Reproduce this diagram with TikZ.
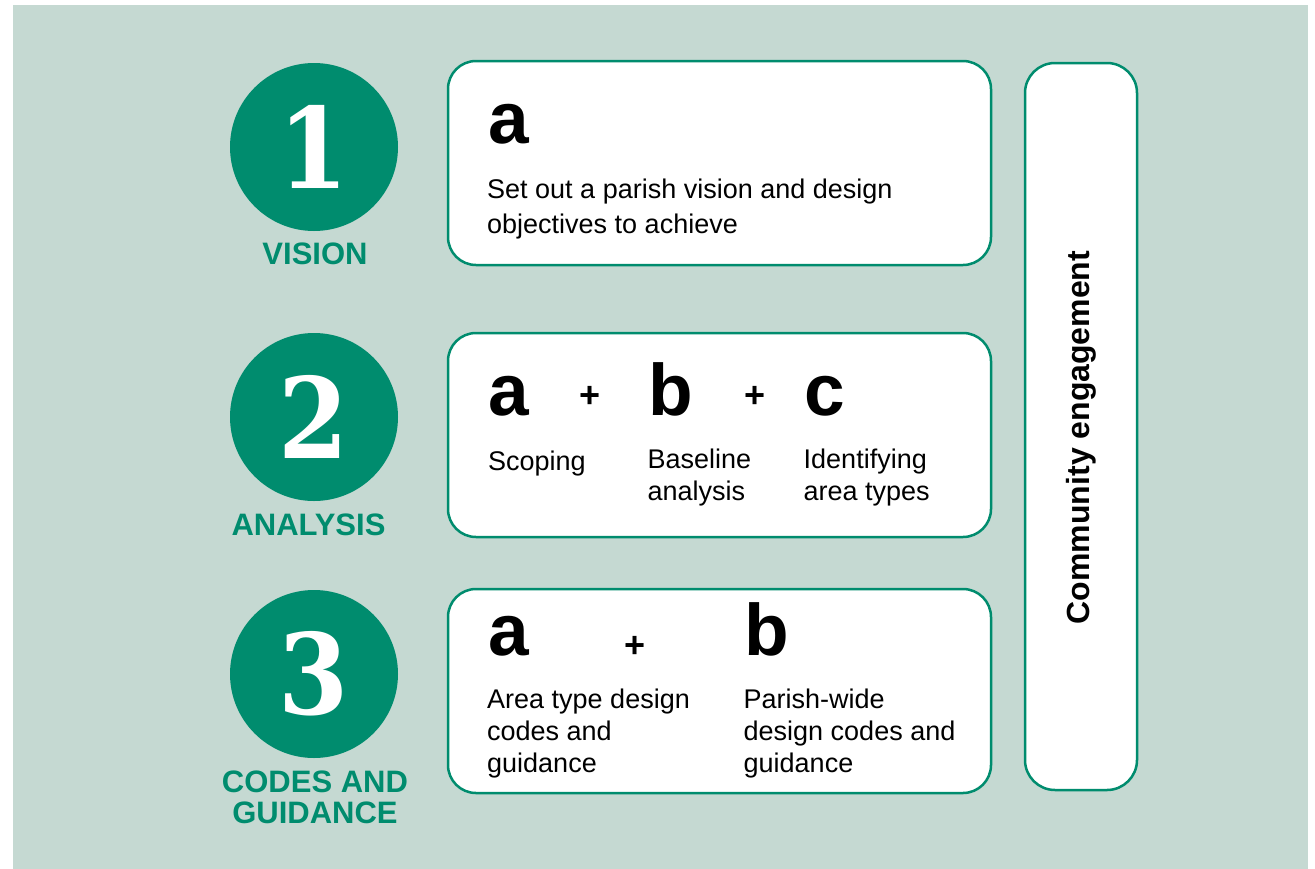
\documentclass[tikz,border=0pt]{standalone}
\usepackage{fontspec}
\setmainfont{Liberation Sans}
\newfontfamily\numfont{DejaVu Serif Condensed}

\definecolor{panelbg}{RGB}{197,217,210}
\definecolor{pgreen}{RGB}{0,140,110}

\begin{document}
\begin{tikzpicture}[x=1pt,y=-1pt,
  stagecircle/.style={circle, fill=pgreen, minimum size=168pt, inner sep=0pt},
  stagenum/.style={text=white, inner sep=0pt, font=\numfont\bfseries\fontsize{112}{112}\selectfont},
  stagelabel/.style={text=pgreen, inner sep=0pt, align=center, font=\bfseries\fontsize{31}{31}\selectfont},
  panel/.style={draw=pgreen, line width=2.5pt, fill=white, rounded corners=28pt,
                minimum width=543pt, minimum height=204pt, inner sep=0pt},
  sidepanel/.style={draw=pgreen, line width=2.5pt, fill=white, rounded corners=30pt,
                minimum width=112pt, minimum height=727pt, inner sep=0pt},
  letter/.style={anchor=base west, inner sep=0pt, font=\bfseries\fontsize{73}{73}\selectfont},
  plussign/.style={inner sep=0pt, font=\bfseries\fontsize{36}{36}\selectfont},
  desc/.style={anchor=base west, inner sep=0pt, font=\fontsize{27}{32}\selectfont},
  descwide/.style={desc, font=\fontsize{27}{35}\selectfont}
]
\useasboundingbox (0,0) rectangle (1315,868);
\fill[white] (0,0) rectangle (1315,868);
\fill[panelbg] (13,5) rectangle (1308,872);

% stage markers
\node[stagecircle] (c1) at (314,147) {};
\node[stagenum] (n1) at (c1.center) {1};
\node[stagelabel] (l1) at (315,254) {VISION};

\node[stagecircle] (c2) at (314,417) {};
\node[stagenum] (n2) at (c2.center) {2};
\node[stagelabel] (l2) at (308.5,525) {ANALYSIS};

\node[stagecircle] (c3) at (314,674) {};
\node[stagenum] (n3) at (c3.center) {3};
\node[stagelabel] (l3) at (315,797.5) {CODES AND\\GUIDANCE};

% panels
\node[panel] (p1) at (719.5,163) {};
\node[panel] (p2) at (719.5,435) {};
\node[panel] (p3) at (719.5,691) {};
\node[sidepanel] (side) at (1081,426.5) {};
\node[rotate=90, inner sep=0pt, font=\bfseries\fontsize{32}{32}\selectfont] (sidetext) at (1081,437.5) {Community engagement};

% panel 1
\node[letter] (p1a) at (488,143) {a};
\node[descwide] (p1t) at (487,198) {\parbox[t]{460pt}{Set out a parish vision and design\\objectives to achieve}};

% panel 2
\node[letter] (p2a) at (488,415) {a};
\node[plussign] (p2p1) at (590,397) {+};
\node[letter] (p2b) at (648.5,415) {b};
\node[plussign] (p2p2) at (755,397) {+};
\node[letter] (p2c) at (804,415) {c};
\node[desc] (p2ta) at (488,470) {\parbox[t]{150pt}{Scoping}};
\node[desc] (p2tb) at (647.5,468) {\parbox[t]{150pt}{Baseline\\analysis}};
\node[desc] (p2tc) at (803.5,468) {\parbox[t]{170pt}{Identifying\\area types}};

% panel 3
\node[letter] (p3a) at (488,655) {a};
\node[plussign] (p3p) at (635,647) {+};
\node[letter] (p3b) at (744,655) {b};
\node[desc] (p3ta) at (487,708) {\parbox[t]{240pt}{Area type design\\codes and\\guidance}};
\node[desc] (p3tb) at (743.5,708) {\parbox[t]{240pt}{Parish-wide\\design codes and\\guidance}};
\end{tikzpicture}
\end{document}
